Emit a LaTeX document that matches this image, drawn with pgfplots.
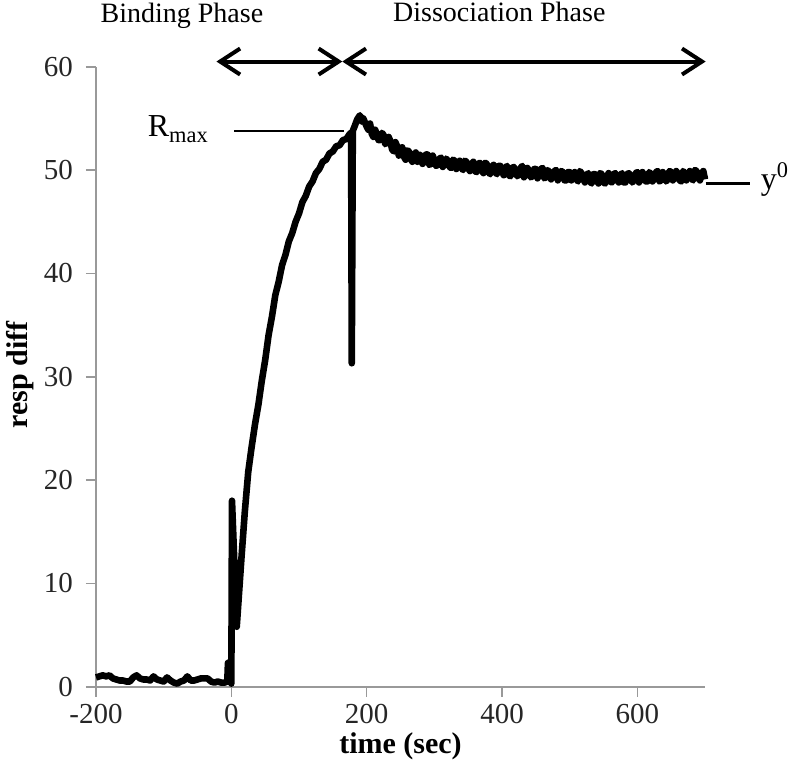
\documentclass[border=0pt]{standalone}
\usepackage{fontspec}
\setmainfont{Liberation Serif}
\usepackage{pgfplots}
\pgfplotsset{compat=1.18}
\usetikzlibrary{arrows.meta}
\begin{document}
\begin{tikzpicture}
\path[use as bounding box] (-48pt,-37.65pt) rectangle (347pt,343.35pt);
\begin{axis}[
  at={(0,0)}, anchor=south west,
  scale only axis, width=304.5pt, height=310pt,
  xmin=-200, xmax=700, ymin=0, ymax=60,
  axis x line=bottom, axis y line=left,
  axis line style={-, gray!80, line width=0.8pt},
  xtick={-200,0,200,400,600}, ytick={0,10,20,30,40,50,60},
  tick align=outside, major tick length=5pt,
  tick style={gray!80, line width=0.8pt},
  ticklabel style={font=\fontsize{14.5}{16}\selectfont, text=black!85},
  yticklabel style={xshift=-3pt},
  /pgf/number format/assume math mode=true,
  clip=false,
]
\addplot[black, line width=3.3pt, line join=round, line cap=butt] coordinates {
(-200,0.9) (-195,1.0) (-190,1.1) (-185,1.0) (-180,1.1) (-175,0.8) (-170,0.7) (-165,0.6)
(-160,0.6) (-155,0.5) (-150,0.5) (-145,0.9) (-140,1.1) (-135,0.8) (-130,0.7) (-125,0.7)
(-120,0.6) (-115,1.0) (-110,0.7) (-105,0.6) (-100,0.5) (-95,0.9) (-90,0.6) (-85,0.4)
(-80,0.3) (-75,0.5) (-70,0.6) (-65,1.0) (-60,0.6) (-55,0.6) (-50,0.7) (-45,0.8)
(-40,0.8) (-35,0.8) (-30,0.5) (-25,0.4) (-20,0.5) (-15,0.4) (-10,0.4) (-6,0.5)
(-5,2.3) (-1,2.4) (0,0.3) (1,18.0) (8,5.8) (15,12.5) (20,17.0) (25,20.8) (30,23.2)
(35,25.4) (40,27.3) (45,29.6) (50,31.6) (55,34.0) (60,35.8) (65,37.9) (70,39.2)
(75,40.8) (80,41.8) (85,43.1) (90,43.9) (95,45.0) (100,45.8) (105,46.9) (110,47.5)
(115,48.4) (120,48.9) (125,49.7) (130,50.1) (135,50.8) (140,51.0) (145,51.6) (150,51.8)
(155,52.3) (160,52.4) (165,52.9) (170,53.0) (175,53.5) (177,53.6) (178,31.3) (179.5,53.8)
(182,54.2) (186,54.9) (190,55.3) (193,54.7) (195,55.0)
(200,54.2) (202.5,53.9) (205,54.5) (207.5,53.5) (210,53.2) (212.5,53.9) (215,53.5) (217.5,52.9)
(220,52.9) (222.5,53.6) (225,53.4) (227.5,52.5) (230,52.7) (232.5,53.2) (235,52.8) (237.5,52.0)
(240,51.8) (242.5,52.7) (245,52.3) (247.5,51.4) (250,51.8) (252.5,52.2) (255,51.3) (257.5,51.0)
(260,51.9) (262.5,51.8) (265,51.1) (267.5,50.8) (270,51.3) (272.5,51.7) (275,50.8) (277.5,51.5)
(280,51.4) (282.5,50.6) (285,50.9) (287.5,51.5) (290,51.5) (292.5,50.5) (295,50.6) (297.5,51.4)
(300,51.0) (302.5,50.4) (305,50.5) (307.5,51.1) (310,51.2) (312.5,50.3) (315,50.6) (317.5,51.1)
(320,50.9) (322.5,50.3) (325,50.2) (327.5,51.0) (330,50.9) (332.5,50.1) (335,50.5) (337.5,50.9)
(340,50.2) (342.5,50.0) (345,50.9) (347.5,50.8) (350,50.2) (352.5,49.9) (355,50.5) (357.5,50.8)
(360,49.9) (362.5,49.8) (365,50.6) (367.5,50.7) (370,50.0) (372.5,49.7) (375,50.7) (377.5,50.6)
(380,49.8) (382.5,49.6) (385,50.2) (387.5,50.5) (390,49.8) (392.5,49.6) (395,50.4) (397.5,50.4)
(400,49.9) (402.5,49.5) (405,50.2) (407.5,50.4) (410,49.5) (412.5,49.4) (415,50.2) (417.5,50.3)
(420,49.9) (422.5,49.4) (425,49.6) (427.5,50.2) (430,50.4) (432.5,49.3) (435,49.7) (437.5,50.2)
(440,49.9) (442.5,49.3) (445,49.4) (447.5,50.1) (450,50.1) (452.5,49.2) (455,49.6) (457.5,50.1)
(460,50.2) (462.5,49.2) (465,49.3) (467.5,50.0) (470,49.8) (472.5,49.1) (475,49.4) (477.5,49.9)
(480,50.0) (482.5,49.0) (485,49.5) (487.5,49.9) (490,49.8) (492.5,49.0) (495,49.0) (497.5,49.8)
(500,49.8) (502.5,49.0) (505,49.5) (507.5,49.8) (510,49.1) (512.5,48.9) (515,49.9) (517.5,49.7)
(520,49.2) (522.5,48.8) (525,49.5) (527.5,49.7) (530,48.9) (532.5,48.7) (535,49.6) (537.5,49.6)
(540,49.1) (542.5,48.7) (545,49.7) (547.5,49.6) (550,48.8) (552.5,48.7) (555,49.3) (557.5,49.7)
(560,48.9) (562.5,48.8) (565,49.6) (567.5,49.7) (570,49.1) (572.5,48.8) (575,49.5) (577.5,49.7)
(580,48.8) (582.5,48.8) (585,49.6) (587.5,49.7) (590,49.3) (592.5,48.8) (595,49.0) (597.5,49.7)
(600,49.8) (602.5,48.8) (605,49.1) (607.5,49.8) (610,49.4) (612.5,48.9) (615,48.9) (617.5,49.8)
(620,49.6) (622.5,48.9) (625,49.2) (627.5,49.8) (630,49.9) (632.5,48.9) (635,49.0) (637.5,49.8)
(640,49.5) (642.5,48.9) (645,49.1) (647.5,49.9) (650,49.8) (652.5,49.0) (655,49.3) (657.5,49.9)
(660,49.6) (662.5,49.0) (665,48.9) (667.5,49.9) (670,49.7) (672.5,49.0) (675,49.5) (677.5,49.9)
(680,49.2) (682.5,49.0) (685,50.0) (687.5,49.9) (690,49.3) (692.5,49.0) (695,49.6) (697.5,49.9)
(700,49.1)
};
\draw[line width=2pt, {Straight Barb[length=10pt,width=13pt]}-{Straight Barb[length=10pt,width=13pt]}] (axis cs:-22,60.5) -- (axis cs:164,60.5);
\draw[line width=2pt, {Straight Barb[length=10pt,width=13pt]}-{Straight Barb[length=10pt,width=13pt]}] (axis cs:164,60.5) -- (axis cs:701,60.5);
\draw[line width=1.2pt] (axis cs:4,53.8) -- (axis cs:166,53.8);
\draw[line width=1.2pt] (axis cs:701,48.7) -- (axis cs:767,48.7);
\node[anchor=base west, inner sep=0pt, font=\fontsize{16}{18}\selectfont] at (axis cs:-124,53.2) {R\textsubscript{max}};
\node[anchor=base west, inner sep=0pt, font=\fontsize{16}{18}\selectfont] at (axis cs:782,48.1) {y\textsuperscript{0}};
\node[anchor=base, inner sep=0pt, font=\fontsize{14}{16}\selectfont] at (axis cs:-73,64.3) {Binding Phase};
\node[anchor=base, inner sep=0pt, font=\fontsize{14}{16}\selectfont] at (axis cs:396,64.4) {Dissociation Phase};
\node[anchor=base, inner sep=0pt, font=\fontsize{15}{17}\selectfont\bfseries] at (axis cs:250,-6.5) {time (sec)};
\node[anchor=center, rotate=90, inner sep=0pt, font=\fontsize{15}{17}\selectfont\bfseries] at (axis cs:-312,30.2) {resp diff};
\end{axis}
\end{tikzpicture}
\end{document}
